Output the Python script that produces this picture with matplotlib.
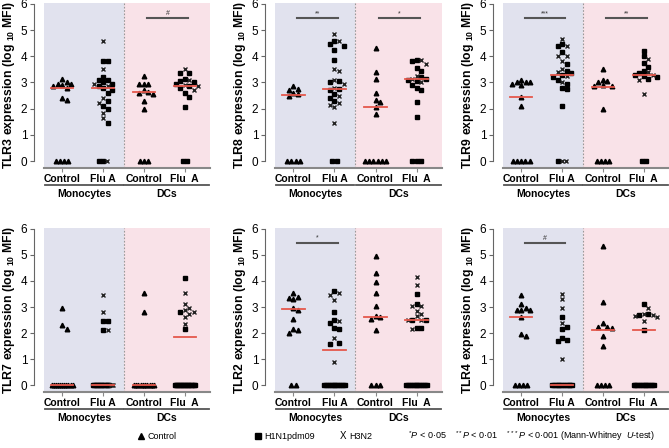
import numpy as np
import matplotlib
matplotlib.use("Agg")
import matplotlib.pyplot as plt
from matplotlib.lines import Line2D

plt.rcParams['font.family'] = 'Liberation Sans'
plt.rcParams['mathtext.fontset'] = 'custom'
plt.rcParams['mathtext.rm'] = 'Liberation Sans'
plt.rcParams['mathtext.it'] = 'Liberation Sans:italic'
plt.rcParams['mathtext.bf'] = 'Liberation Sans:bold'

# ---- data (log10 MFI) ----
# order of groups: Monocytes Control, Monocytes Flu A, DCs Control, DCs Flu A
tlr3_mono_ctrl = [3.15, 3.0, 2.95, 2.95, 2.9, 2.85, 2.8, 2.4, 2.35, 0, 0, 0, 0]
tlr3_mono_h1 = [3.8, 3.8, 3.2, 3.1, 3.1, 3.0, 2.95, 2.85, 2.8, 2.7, 2.6, 2.3, 2.1, 2.0, 1.45, 0, 0]
tlr3_mono_h3 = [4.6, 3.5, 2.95, 2.85, 2.4, 2.2, 1.85, 1.65, 0]
tlr3_dc_ctrl = [3.25, 2.95, 2.95, 2.95, 2.7, 2.65, 2.6, 2.55, 2.3, 2.0, 0, 0, 0]
tlr3_dc_h1 = [3.35, 3.35, 3.15, 3.05, 3.0, 2.95, 2.85, 2.8, 2.6, 2.45, 2.05, 0, 0]
tlr3_dc_h3 = [3.5, 3.1, 2.9, 2.85, 2.7]
tlr3_medians = [2.8, 2.8, 2.63, 2.85]
tlr3_sig = [(3, 4, '#')]

tlr8_mono_ctrl = [2.85, 2.75, 2.7, 2.6, 2.55, 2.5, 0, 0, 0, 0]
tlr8_mono_h1 = [4.6, 4.45, 4.4, 4.25, 3.85, 3.05, 3.0, 2.75, 2.7, 2.55, 2.4, 2.3, 0, 0]
tlr8_mono_h3 = [4.85, 4.6, 3.5, 3.45, 3.1, 2.95, 2.8, 2.5, 2.2, 2.15, 2.05, 1.45]
tlr8_dc_ctrl = [4.3, 3.4, 3.15, 2.6, 2.35, 2.25, 2.05, 1.8, 0, 0, 0, 0, 0, 0]
tlr8_dc_h1 = [3.85, 3.8, 3.55, 3.45, 3.2, 3.15, 3.1, 3.05, 2.9, 2.8, 2.7, 2.25, 1.7, 0, 0, 0]
tlr8_dc_h3 = [3.85, 3.7, 3.25, 3.15, 3.0]
tlr8_medians = [2.52, 2.77, 2.07, 3.15]
tlr8_sig = [(1, 2, '**'), (3, 4, '*')]

tlr9_mono_ctrl = [3.1, 3.0, 3.0, 3.0, 2.95, 2.9, 2.45, 2.1, 0, 0, 0, 0, 0]
tlr9_mono_h1 = [4.45, 4.4, 4.15, 3.7, 3.45, 3.35, 3.3, 3.2, 3.1, 2.95, 2.8, 2.75, 2.1, 0]
tlr9_mono_h3 = [4.65, 4.4, 4.0, 4.0, 3.8, 3.5, 3.4, 3.25, 3.0, 0, 0]
tlr9_dc_ctrl = [3.5, 3.1, 3.05, 3.0, 2.9, 2.85, 2.85, 2.0, 0, 0, 0, 0]
tlr9_dc_h1 = [4.2, 4.0, 3.75, 3.6, 3.45, 3.35, 3.3, 3.25, 3.2, 3.15, 0, 0]
tlr9_dc_h3 = [3.9, 3.4, 3.3, 3.1, 2.55]
tlr9_medians = [2.45, 3.3, 2.83, 3.28]
tlr9_sig = [(1, 2, '***'), (3, 4, '**')]

tlr7_mono_ctrl = [2.95, 2.3, 2.15] + [0] * 11
tlr7_mono_h1 = [2.45, 2.45, 2.1] + [0] * 13
tlr7_mono_h3 = [3.45, 2.8, 2.1] + [0] * 3
tlr7_dc_ctrl = [3.55, 2.8] + [0] * 10
tlr7_dc_h1 = [4.1, 2.8, 2.15] + [0] * 16
tlr7_dc_h3 = [3.55, 3.1, 2.95, 2.9, 2.8, 2.75, 2.6, 2.35]
tlr7_medians = [0, 0, 0, 1.85]
tlr7_sig = []

tlr2_mono_ctrl = [3.55, 3.4, 3.35, 3.3, 2.95, 2.9, 2.55, 2.15, 2.1, 2.0, 0, 0]
tlr2_mono_h1 = [3.6, 2.8, 2.5, 2.4, 2.2, 2.15, 1.62, 1.6] + [0] * 12
tlr2_mono_h3 = [3.55, 3.45, 3.25, 2.45, 1.8, 0.9]
tlr2_dc_ctrl = [4.95, 4.3, 3.95, 3.55, 3.05, 2.65, 2.6, 2.55, 2.1, 0, 0, 0]
tlr2_dc_h1 = [3.5, 3.1, 2.5, 2.5, 2.2, 2.2] + [0] * 12
tlr2_dc_h3 = [4.15, 3.85, 3.05, 3.05, 2.85, 2.75, 2.65, 2.5, 2.5, 2.15]
tlr2_medians = [2.93, 1.37, 2.63, 2.5]
tlr2_sig = [(1, 2, '*')]

tlr4_mono_ctrl = [3.45, 3.1, 2.95, 2.9, 2.9, 2.9, 2.6, 1.95, 1.9, 0, 0, 0, 0]
tlr4_mono_h1 = [2.6, 2.25, 2.15, 1.8, 1.75, 1.7] + [0] * 12
tlr4_mono_h3 = [3.5, 3.3, 2.95, 2.4, 1.0]
tlr4_dc_ctrl = [5.35, 3.2, 2.4, 2.25, 2.25, 2.2, 1.9, 1.5, 0, 0, 0, 0]
tlr4_dc_h1 = [3.1, 2.75, 2.7, 2.1] + [0] * 12
tlr4_dc_h3 = [2.95, 2.75, 2.7, 2.65, 2.6, 2.45]
tlr4_medians = [2.6, 0, 2.1, 2.12]
tlr4_sig = [(1, 2, '#')]

categories = ['Control', 'Flu A', 'Control', 'Flu  A']
cell_types = ['Monocytes', 'DCs']

MONO_BG = '#e1e2ee'
DC_BG = '#f9e2e8'
RED = '#e5584c'


def swarm(vals, d=0.11, dy=0.2):
    vals = np.asarray(vals, dtype=float)
    off = np.zeros(len(vals))
    zeros = np.where(vals == 0)[0]
    n = len(zeros)
    if n > 1:
        step = min(0.1, 0.5 / (n - 1))
        off[zeros] = (np.arange(n) - (n - 1) / 2) * step
    placed = []
    order = [i for i in np.argsort(-vals) if vals[i] != 0]
    for i in order:
        y = vals[i]
        ok = 0.0
        for k in range(0, 12):
            cand = [0.0] if k == 0 else [k * d, -k * d]
            found = None
            for c in cand:
                if all(abs(c - px) >= d * 0.95 or abs(y - py) >= dy for px, py in placed):
                    found = c
                    break
            if found is not None:
                ok = found
                break
        off[i] = ok
        placed.append((ok, y))
    return off


def draw_panel(ax, name, mono_ctrl, mono_h1, mono_h3, dc_ctrl, dc_h1, dc_h3, medians, sig):
    ax.axvspan(0.55, 2.5, color=MONO_BG, lw=0, zorder=0)
    ax.axvspan(2.5, 4.62, color=DC_BG, lw=0, zorder=0)
    ax.axvline(2.5, color='#999999', lw=0.8, ls=(0, (1.5, 1.5)), zorder=1)

    for pos, ctrl in [(1, mono_ctrl), (3, dc_ctrl)]:
        off = swarm(ctrl)
        ax.plot(pos + off, ctrl, ls='none', marker='^', ms=3.3, color='black', zorder=3)
    for pos, h1, h3 in [(2, mono_h1, mono_h3), (4, dc_h1, dc_h3)]:
        vals = list(h1) + list(h3)
        off = swarm(vals)
        n1 = len(h1)
        ax.plot(pos + off[:n1], h1, ls='none', marker='s', ms=3.0, color='black', zorder=3)
        ax.plot(pos + off[n1:], h3, ls='none', marker='x', ms=3.2, mew=1.0, color='#222222', zorder=3)

    for pos, m in zip([1, 2, 3, 4], medians):
        ax.plot([pos - 0.27, pos + 0.27], [m, m], color=RED, lw=1.3, zorder=5)

    for a, b, lab in sig:
        ax.plot([a + 0.08, b + 0.08], [5.45, 5.45], color='#555555', lw=1.5)
        ax.text((a + b) / 2 + 0.08, 5.5, lab, ha='center', va='bottom', fontsize=5, color='#333333')

    ax.set_xlim(0.55, 4.62)
    ax.set_ylim(-0.26, 6.03)
    ax.set_yticks(range(7))
    ax.set_xticks([1, 2, 3, 4])
    ax.set_xticklabels([])
    ax.tick_params(axis='y', labelsize=8.5, length=3, color='#666666', pad=2)
    ax.tick_params(axis='x', length=3, color='#888888')
    for t in ax.get_yticklabels():
        t.set_fontweight('bold')
    for s in ['top', 'right']:
        ax.spines[s].set_visible(False)
    ax.spines['left'].set_position(('outward', 7))
    ax.spines['left'].set_color('#666666')
    ax.spines['left'].set_bounds(0, 6)
    ax.spines['bottom'].set_color('#888888')
    ax.spines['bottom'].set_linewidth(1.5)
    ax.set_ylabel(name + r' expression (log $\mathbf{_{10}}$ MFI)', fontsize=8.8,
                  fontweight='bold')
    ax.yaxis.set_label_coords(-0.16, 0.5)

    tr = ax.get_xaxis_transform()
    h = ax.get_window_extent().height
    for pos, lab in zip([1, 2, 3, 4], categories):
        ax.text(pos, -11 / h, lab, transform=tr, ha='center', va='center',
                fontsize=7.5, fontweight='bold')
    for (x0, x1), lab in zip([(0.58, 2.48), (2.52, 4.6)], cell_types):
        ax.plot([x0, x1], [-17 / h, -17 / h], transform=tr, color='#555555', lw=1.3, clip_on=False)
        ax.text((x0 + x1) / 2, -26 / h, lab, transform=tr, ha='center', va='center',
                fontsize=7.5, fontweight='bold')


W, H = 669, 448
fig = plt.figure(figsize=(W / 100, H / 100), dpi=100)

lefts = [44, 275, 503]
widths = [166, 167, 166]
rows = [(3, 168), (228, 392)]


def make_ax(col, row):
    top, bot = rows[row]
    return fig.add_axes([lefts[col] / W, 1 - bot / H, widths[col] / W, (bot - top) / H])


draw_panel(make_ax(0, 0), 'TLR3', tlr3_mono_ctrl, tlr3_mono_h1, tlr3_mono_h3,
           tlr3_dc_ctrl, tlr3_dc_h1, tlr3_dc_h3, tlr3_medians, tlr3_sig)
draw_panel(make_ax(1, 0), 'TLR8', tlr8_mono_ctrl, tlr8_mono_h1, tlr8_mono_h3,
           tlr8_dc_ctrl, tlr8_dc_h1, tlr8_dc_h3, tlr8_medians, tlr8_sig)
draw_panel(make_ax(2, 0), 'TLR9', tlr9_mono_ctrl, tlr9_mono_h1, tlr9_mono_h3,
           tlr9_dc_ctrl, tlr9_dc_h1, tlr9_dc_h3, tlr9_medians, tlr9_sig)
draw_panel(make_ax(0, 1), 'TLR7', tlr7_mono_ctrl, tlr7_mono_h1, tlr7_mono_h3,
           tlr7_dc_ctrl, tlr7_dc_h1, tlr7_dc_h3, tlr7_medians, tlr7_sig)
draw_panel(make_ax(1, 1), 'TLR2', tlr2_mono_ctrl, tlr2_mono_h1, tlr2_mono_h3,
           tlr2_dc_ctrl, tlr2_dc_h1, tlr2_dc_h3, tlr2_medians, tlr2_sig)
draw_panel(make_ax(2, 1), 'TLR4', tlr4_mono_ctrl, tlr4_mono_h1, tlr4_mono_h3,
           tlr4_dc_ctrl, tlr4_dc_h1, tlr4_dc_h3, tlr4_medians, tlr4_sig)

# legend line at the bottom
ly = 1 - 436 / H
fig.add_artist(Line2D([141 / W], [ly], marker='^', ms=4, color='black', transform=fig.transFigure))
fig.text(148 / W, ly, 'Control', fontsize=6.5, va='center')
fig.add_artist(Line2D([258 / W], [ly], marker='s', ms=4, color='black', transform=fig.transFigure))
fig.text(264 / W, ly, 'H1N1pdm09', fontsize=6.5, va='center')
fig.text(340 / W, ly, 'X', fontsize=7, va='center')
fig.text(349 / W, ly, 'H3N2', fontsize=6.5, va='center')
fig.text(408 / W, ly, r'$^{*}\it{P}$ < 0·05    $^{**}\it{P}$ < 0·01    $^{***}\it{P}$ < 0·001 (Mann-Whitney  $\it{U}$-test)',
         fontsize=6.5, va='center')

fig.savefig('out.png', dpi=100)
